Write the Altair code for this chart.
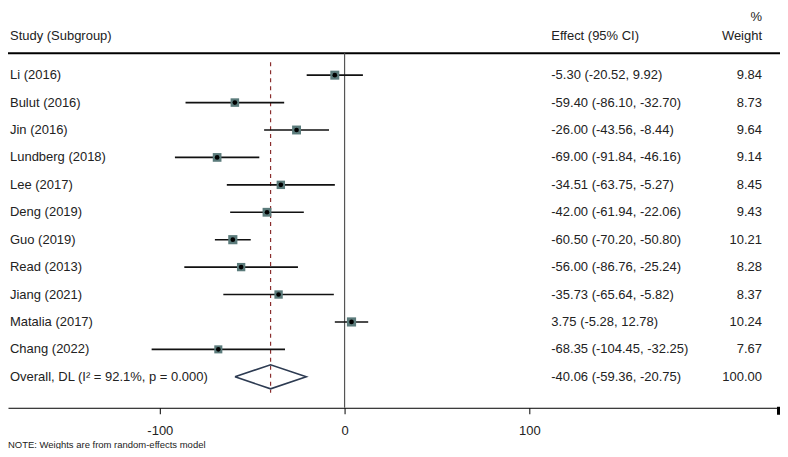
import altair as alt
import pandas as pd

studies = ["Li (2016)", "Bulut (2016)", "Jin (2016)", "Lundberg (2018)", "Lee (2017)",
           "Deng (2019)", "Guo (2019)", "Read (2013)", "Jiang (2021)", "Matalia (2017)",
           "Chang (2022)"]
effects = [-5.30, -59.40, -26.00, -69.00, -34.51, -42.00, -60.50, -56.00, -35.73, 3.75, -68.35]
lows = [-20.52, -86.10, -43.56, -91.84, -63.75, -61.94, -70.20, -86.76, -65.64, -5.28, -104.45]
highs = [9.92, -32.70, -8.44, -46.16, -5.27, -22.06, -50.80, -25.24, -5.82, 12.78, -32.25]
weights = [9.84, 8.73, 9.64, 9.14, 8.45, 9.43, 10.21, 8.28, 8.37, 10.24, 7.67]

overall_label = "Overall, DL (I² = 92.1%, p = 0.000)"
overall_est = -40.06
overall_lo = -59.36
overall_hi = -20.75
overall_weight = 100.00

tick_values = [-100, 0, 100]

FONT = "Liberation Sans"
FS = 13
n = len(studies)

df = pd.DataFrame({
    "study": studies, "effect": effects, "lo": lows, "hi": highs, "weight": weights,
    "row": list(range(n)),
})
df["ci_text"] = [f"{e:.2f} ({l:.2f}, {h:.2f})" for e, l, h in zip(effects, lows, highs)]
df["w_text"] = [f"{w:.2f}" for w in weights]

text_df = pd.DataFrame({
    "label": studies + [overall_label],
    "ci_text": list(df["ci_text"]) + [f"{overall_est:.2f} ({overall_lo:.2f}, {overall_hi:.2f})"],
    "w_text": list(df["w_text"]) + [f"{overall_weight:.2f}"],
    "row": list(range(n + 1)),
})

diamond_df = pd.DataFrame({
    "x": [overall_lo, overall_est, overall_hi, overall_est, overall_lo],
    "row": [n, n - 0.44, n, n + 0.44, n],
    "order": [0, 1, 2, 3, 4],
})

W, H = 773, 355
xs = alt.Scale(domain=[-182.2, 235.7], zero=False, nice=False)
ys = alt.Scale(domain=[-0.80, 12.13], reverse=True, zero=False, nice=False)

X_AXIS = alt.Axis(values=tick_values, title=None, grid=False, domainColor="#000000",
                  domainWidth=1, tickColor="#000000", tickSize=6, labelFont=FONT,
                  labelFontSize=FS, labelColor="#222222", labelPadding=11,
                  labelExpr="'' + datum.value")

base = alt.Chart(df)

ci = base.mark_rule(color="#111111", strokeWidth=1.6).encode(
    x=alt.X("lo:Q", scale=xs, axis=X_AXIS),
    x2="hi:Q",
    y=alt.Y("row:Q", scale=ys, axis=None),
)

boxes = base.mark_square(color="#5b7b7b", opacity=1).encode(
    x=alt.X("effect:Q", scale=xs),
    y=alt.Y("row:Q", scale=ys),
    size=alt.Size("weight:Q", scale=alt.Scale(domain=[7, 11], range=[60, 90]), legend=None),
)

dots = base.mark_circle(color="#000000", size=22, opacity=1).encode(
    x=alt.X("effect:Q", scale=xs),
    y=alt.Y("row:Q", scale=ys),
)

zero_line = alt.Chart(pd.DataFrame({"x": [0]})).mark_rule(color="#555555", strokeWidth=1.2).encode(
    x=alt.X("x:Q", scale=xs), y=alt.value(0), y2=alt.value(H)
)

overall_line = alt.Chart(pd.DataFrame({"x": [overall_est]})).mark_rule(
    color="#8b2f2f", strokeWidth=1.2, strokeDash=[4, 4]
).encode(x=alt.X("x:Q", scale=xs), y=alt.value(9), y2=alt.value(340))

diamond = alt.Chart(diamond_df).mark_line(color="#2d3b52", strokeWidth=1.6).encode(
    x=alt.X("x:Q", scale=xs),
    y=alt.Y("row:Q", scale=ys),
    order="order:Q",
)

header_line = alt.Chart(pd.DataFrame({"a": [0]})).mark_rule(color="#000000", strokeWidth=2.2).encode(
    x=alt.value(0), x2=alt.value(W), y=alt.value(0)
)

end_tick = alt.Chart(pd.DataFrame({"a": [0]})).mark_rule(color="#000000", strokeWidth=3).encode(
    x=alt.value(W - 1.5), y=alt.value(H - 1), y2=alt.value(H + 7)
)

tb = alt.Chart(text_df)
labels = tb.mark_text(align="left", baseline="middle", font=FONT, fontSize=FS, color="#222222").encode(
    x=alt.value(2), y=alt.Y("row:Q", scale=ys), text="label:N"
)
ci_texts = tb.mark_text(align="left", baseline="middle", font=FONT, fontSize=FS, color="#222222").encode(
    x=alt.value(544), y=alt.Y("row:Q", scale=ys), text="ci_text:N"
)
w_texts = tb.mark_text(align="right", baseline="middle", font=FONT, fontSize=FS, color="#222222").encode(
    x=alt.value(755), y=alt.Y("row:Q", scale=ys), text="w_text:N"
)

headers_df = pd.DataFrame({
    "t": ["Study (Subgroup)", "Effect (95% CI)", "Weight", "%", "NOTE: Weights are from random-effects model"],
    "x": [2, 544, 755, 755, 0],
    "y": [-17, -17, -17, -36, 392],
    "al": ["left", "left", "right", "right", "left"],
    "fs": [FS, FS, FS, FS, 9.5],
})
hdr_left = alt.Chart(headers_df[headers_df.al == "left"]).mark_text(
    align="left", baseline="middle", font=FONT, color="#222222").encode(
    x=alt.X("x:Q", scale=None), y=alt.Y("y:Q", scale=None), text="t:N",
    size=alt.Size("fs:Q", scale=None, legend=None))
hdr_right = alt.Chart(headers_df[headers_df.al == "right"]).mark_text(
    align="right", baseline="middle", font=FONT, color="#222222").encode(
    x=alt.X("x:Q", scale=None), y=alt.Y("y:Q", scale=None), text="t:N",
    size=alt.Size("fs:Q", scale=None, legend=None))

chart = alt.layer(
    header_line, zero_line, overall_line, ci, boxes, dots, diamond, end_tick,
    labels, ci_texts, w_texts, hdr_left, hdr_right
).resolve_scale(size="independent").properties(
    width=W, height=H,
    autosize=alt.AutoSizeParams(type="none"),
    padding={"left": 0, "top": 45, "right": 0, "bottom": 41},
    background="white",
).configure_view(stroke=None).configure_axis(domain=True)

chart.save("out.html", embed_options={"renderer": "svg", "actions": False})
